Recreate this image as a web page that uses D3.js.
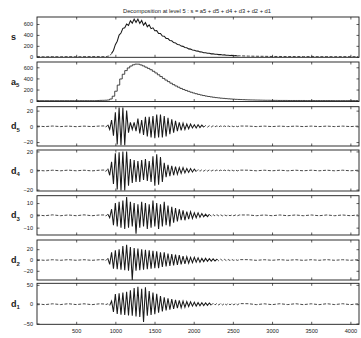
<!DOCTYPE html>
<html><head><meta charset="utf-8">
<script src="https://cdn.jsdelivr.net/npm/d3@7"></script>
<style>body{margin:0;background:#fff}svg{display:block}</style>
</head><body><svg id="c" width="361" height="338"></svg>
<script>
// ---------- data ----------
const titleText = "Decomposition at level 5 : s = a5 + d5 + d4 + d3 + d2 + d1";
const xTicks = [500, 1000, 1500, 2000, 2500, 3000, 3500, 4000];

// sample positions of the traced signals
const quietLeftX = [0, 100, 200, 300, 400, 500, 600, 700, 800];
const activeX = d3.range(856, 2585, 24);            // 73 positions
const quietRightX = [2700, 2800, 2900, 3000, 3100, 3200, 3300, 3400, 3500, 3600, 3700, 3800, 3900, 4000, 4096];

const sLeft = [1, -2, 2, -1, 2, -1, 1, 3, 2];
const sActive = [1, -1, 10, 15, 62, 115, 222, 285, 398, 435,
  520, 532, 600, 575, 660, 615, 690, 630, 690, 610,
  665, 580, 625, 550, 585, 515, 530, 476, 478, 427,
  426, 379, 376, 335, 333, 297, 292, 259, 254, 226,
  221, 195, 190, 169, 164, 144, 140, 124, 121, 106,
  103, 89, 88, 75, 75, 63, 64, 53, 55, 46,
  46, 39, 40, 33, 34, 27, 29, 23, 25, 19,
  21, 15, 18];
const sRight = [12, 9, 8, 5, 5, 3, 4, 2, 3, 1, 2, 1, 2, 1, 1];

// a5: one value per 32-sample block (0, 32, 64, ... 4064)
const a5Blocks = [0,0,0,0,0,0,0,0,0,0,0,0,0,0,0,0,0,0,0,0,0,0,0,0,
  3, 5, 6, 8, 12, 30, 80, 170, 280, 390, 475, 540, 588, 622, 645, 657,
  656, 642, 624, 602, 580, 556, 528, 498, 465, 433, 400, 370, 342, 314,
  288, 264, 242, 220, 201, 184, 168, 152, 138, 125, 113, 102, 92, 83,
  75, 68, 61, 55, 50, 45, 41, 37, 33, 30, 27, 24, 22, 20, 18, 16, 14,
  13, 12, 11, 10, 9, 8, 7, 7, 6, 5, 5,
  4,4,4,4,3,3,3,3,3,3,3,2,2,2,2,2,2,2,2,2,2,2,1,1,1,1,1,1,1,1,1,1];

const d5Left = [0.3, -0.3, 0.4, -0.3, 0.3, -0.4, 0.3, -0.3, 0.4];
const d5Active = [0.5, -1, 2, -4, 8, -12, 18, -23, 24, -24,
  24, -24, 20, -8, 5, -4, 5, -6, 10, -9,
  8, -11, 12, -13, 12, -14, 13, -15, 15, -14,
  15, -14, 13, -13, 11, -10, 9, -8, 7, -6,
  5, -5, 4, -4, 3, -3, 3, -2, 2, -2,
  2, -1.5, 1.5, -1, 1, -1, 0.8, -0.8, 0.8, -0.6,
  0.6, -0.6, 0.5, -0.5, 0.5, -0.5, 0.5, -0.4, 0.4, -0.4,
  0.4, -0.4, 0.4];
const d5Right = [0.3, -0.3, 0.3, -0.3, 0.3, -0.3, 0.3, -0.3, 0.3, -0.3, 0.3, -0.3, 0.3, -0.3, 0.3];

const d4Left = [0.3, -0.4, 0.3, -0.3, 0.4, -0.3, 0.3, -0.4, 0.3];
const d4Active = [0.5, -1, 2, -5, 9, -14, 18, -20, 19, -21,
  20, -21, 20, -16, 12, -13, 11, -12, 10, -12,
  11, -10, 12, -11, 10, -12, 15, -16, 17, -15,
  14, -12, 8, -7, 6, -6, 5, -5, 4, -4,
  3, -3, 3, -2.5, 2, -2, 2, -1.5, 1.5, -1,
  1, -0.8, 0.8, -0.7, 0.7, -0.6, 0.6, -0.5, 0.5, -0.5,
  0.5, -0.5, 0.4, -0.4, 0.4, -0.4, 0.4, -0.4, 0.4, -0.4,
  0.4, -0.4, 0.4];
const d4Right = [0.3, -0.3, 0.3, -0.3, 0.3, -0.3, 0.3, -0.3, 0.3, -0.3, 0.3, -0.3, 0.3, -0.3, 0.3];

const d3Left = [0.3, -0.3, 0.4, -0.3, 0.3, -0.3, 0.4, -0.3, 0.3];
const d3Active = [0.3, -0.5, 1, -2, 5, -8, 10, -9, 11, -10,
  12, -11, 15, -10, 11, -9, 10, -15, 9, -10,
  11, -9, 10, -11, 9, -10, 12, -9, 10, -11,
  9, -9, 11, -8, 8, -9, 7, -6, 6, -5,
  5, -4, 4, -4, 3, -3, 3, -2.5, 2, -2,
  2, -1.5, 1.5, -1.2, 1, -1, 0.8, -0.7, 0.6, -0.5,
  0.5, -0.4, 0.4, -0.4, 0.4, -0.3, 0.3, -0.3, 0.3, -0.3,
  0.3, -0.3, 0.3];
const d3Right = [0.3, -0.3, 0.3, -0.3, 0.3, -0.3, 0.3, -0.3, 0.3, -0.3, 0.3, -0.3, 0.3, -0.3, 0.3];

const d2Left = [0.5, -0.6, 0.5, -0.5, 0.6, -0.5, 0.5, -0.6, 0.5];
const d2Active = [0.5, -1, 3, -8, 14, -16, 18, -17, 20, -18,
  26, -19, 28, -20, 24, -37, 22, -20, 21, -19,
  20, -18, 19, -17, 18, -16, 17, -15, 16, -15,
  14, -13, 14, -12, 12, -11, 11, -10, 10, -9,
  9, -8, 7, -7, 6, -6, 5, -5, 5, -4,
  4, -4, 3, -3, 3, -2.5, 2.5, -2, 2, -2,
  1.8, -1.5, 1.5, -1.3, 1.2, -1.1, 1, -1, 0.9, -0.8,
  0.8, -0.7, 0.7];
const d2Right = [0.6, -0.6, 0.5, -0.5, 0.6, -0.5, 0.5, -0.6, 0.5, -0.5, 0.6, -0.5, 0.5, -0.5, 0.5];

const d1Left = [1, -1.2, 1, -1, 1.2, -1, 1, -1.2, 1];
const d1Active = [0.5, -1, 1, -3, 8, -20, 26, -25, 28, -27,
  30, -28, 32, -29, 36, -30, 42, -32, 45, -33,
  40, -46, 44, -30, 34, -28, 30, -26, 27, -22,
  21, -19, 18, -16, 15, -14, 13, -12, 11, -10,
  10, -9, 8, -8, 7, -6, 6, -5, 5, -5,
  4, -4, 4, -3.5, 3.5, -3, 3, -2.5, 2.5, -2,
  2, -2, 2, -2, 1.8, -1.8, 1.8, -1.6, 1.6, -1.5,
  1.5, -1.5, 1.5];
const d1Right = [1.2, -1.2, 1, -1.2, 1.2, -1, 1.2, -1.2, 1, -1.2, 1.2, -1, 1.2, -1.2, 1];

const panelKeys = ["s", "a5", "d5", "d4", "d3", "d2", "d1"];
const panelYTicks = [[0, 200, 400, 600], [0, 200, 400, 600], [-20, 0, 20], [-20, 0, 20], [-10, 0, 10], [-20, 0, 20], [-50, 0, 50]];
const panelYDomains = [[-10, 728], [-15, 695], [-25, 25], [-21.5, 21.5], [-16, 16], [-37, 37], [-52, 54]];

// ---------- layout ----------
const panelBox = [[17, 57.3], [62, 101.5], [106.7, 146], [150, 191], [195.7, 235], [240, 280], [283.3, 324.3]];
const L = 37, R = 359;

const gridX = quietLeftX.concat(activeX, quietRightX);
const joinSeries = (a, b, c) => a.concat(b, c).map((v, i) => [gridX[i], v]);
const a5Pts = a5Blocks.map((v, i) => [i * 32, v]).concat([[4096, a5Blocks[a5Blocks.length - 1]]]);
const seriesByKey = {
  s: {pts: joinSeries(sLeft, sActive, sRight), curve: d3.curveLinear, split: true},
  a5: {pts: a5Pts, curve: d3.curveStepAfter, split: false},
  d5: {pts: joinSeries(d5Left, d5Active, d5Right), curve: d3.curveLinear, split: true},
  d4: {pts: joinSeries(d4Left, d4Active, d4Right), curve: d3.curveLinear, split: true},
  d3: {pts: joinSeries(d3Left, d3Active, d3Right), curve: d3.curveLinear, split: true},
  d2: {pts: joinSeries(d2Left, d2Active, d2Right), curve: d3.curveLinear, split: true},
  d1: {pts: joinSeries(d1Left, d1Active, d1Right), curve: d3.curveLinear, split: true}
};

const svg = d3.select("#c");
const x = d3.scaleLinear().domain([0, 4110]).range([L, R]);
const FONT = "'Liberation Sans', Arial, sans-serif";
const INK = "#1a1a1a";

svg.append("text").attr("x", 197).attr("y", 12.5).attr("text-anchor", "middle")
  .attr("font-family", FONT).attr("font-size", 5.6).attr("fill", INK)
  .attr("textLength", 148).attr("lengthAdjust", "spacingAndGlyphs")
  .text(titleText);

// split a trace into runs: small-amplitude runs are drawn dashed (as in the printed figure)
function runs(pts, y) {
  const zero = y(0);
  const quiet = pts.map(d => Math.abs(y(d[1]) - zero) < 1.0);
  const out = [];
  let start = 0;
  for (let i = 1; i <= pts.length; i++) {
    if (i === pts.length || quiet[i] !== quiet[start]) {
      out.push({pts: pts.slice(start, Math.min(i + 1, pts.length)), quiet: quiet[start]});
      start = i;
    }
  }
  return out;
}

panelKeys.forEach((key, pi) => {
  const [top, bottom] = panelBox[pi];
  const y = d3.scaleLinear().domain(panelYDomains[pi]).range([bottom, top]);
  const g = svg.append("g");
  const clipId = "clip" + pi;
  svg.append("clipPath").attr("id", clipId).append("rect")
    .attr("x", L).attr("y", top).attr("width", R - L).attr("height", bottom - top);

  const ser = seriesByKey[key];
  const line = d3.line().x(d => x(d[0])).y(d => y(d[1])).curve(ser.curve);
  const segs = ser.split ? runs(ser.pts, y) : [{pts: ser.pts, quiet: false}];
  segs.forEach(sg => {
    g.append("path").datum(sg.pts)
      .attr("clip-path", `url(#${clipId})`)
      .attr("fill", "none").attr("stroke", INK)
      .attr("stroke-width", key === "a5" ? 0.8 : (sg.quiet ? 0.8 : 1.05))
      .attr("stroke-dasharray", sg.quiet ? "3,1.6" : null)
      .attr("d", line);
  });

  // box
  g.append("rect").attr("x", L).attr("y", top).attr("width", R - L).attr("height", bottom - top)
    .attr("fill", "none").attr("stroke", INK).attr("stroke-width", 0.9);

  // x ticks (inward, top and bottom)
  const isLast = pi === panelKeys.length - 1;
  const axB = d3.axisBottom(x).tickValues(xTicks).tickSizeInner(-2.5).tickSizeOuter(0)
    .tickFormat(isLast ? d3.format("d") : "");
  const gb = g.append("g").attr("transform", `translate(0,${bottom})`).call(axB);
  const axT = d3.axisTop(x).tickValues(xTicks).tickSizeInner(-2.5).tickSizeOuter(0).tickFormat("");
  const gt = g.append("g").attr("transform", `translate(0,${top})`).call(axT);

  // y ticks left (labels) and right
  const axL = d3.axisLeft(y).tickValues(panelYTicks[pi]).tickSizeInner(-2.5).tickSizeOuter(0)
    .tickPadding(4).tickFormat(d3.format("d"));
  const gl = g.append("g").attr("transform", `translate(${L},0)`).call(axL);
  const axR = d3.axisRight(y).tickValues(panelYTicks[pi]).tickSizeInner(-2.5).tickSizeOuter(0).tickFormat("");
  const gr = g.append("g").attr("transform", `translate(${R},0)`).call(axR);

  [gb, gt, gl, gr].forEach(a => {
    a.select(".domain").remove();
    a.selectAll("line").attr("stroke", INK).attr("stroke-width", 0.7);
    a.selectAll("text").attr("font-family", FONT).attr("font-size", 5.6).attr("fill", INK);
  });
  gb.selectAll("text").attr("dy", "0.71em").attr("y", 5);

  // y label
  const yl = svg.append("text").attr("x", 11).attr("y", (top + bottom) / 2 + 3)
    .attr("font-family", FONT).attr("font-size", 9).attr("font-weight", "bold").attr("fill", INK);
  yl.append("tspan").text(key[0]);
  if (key.length > 1) {
    yl.append("tspan").attr("dy", 2.5).attr("font-size", 6).text(key.slice(1));
  }
});
</script>
</body></html>
